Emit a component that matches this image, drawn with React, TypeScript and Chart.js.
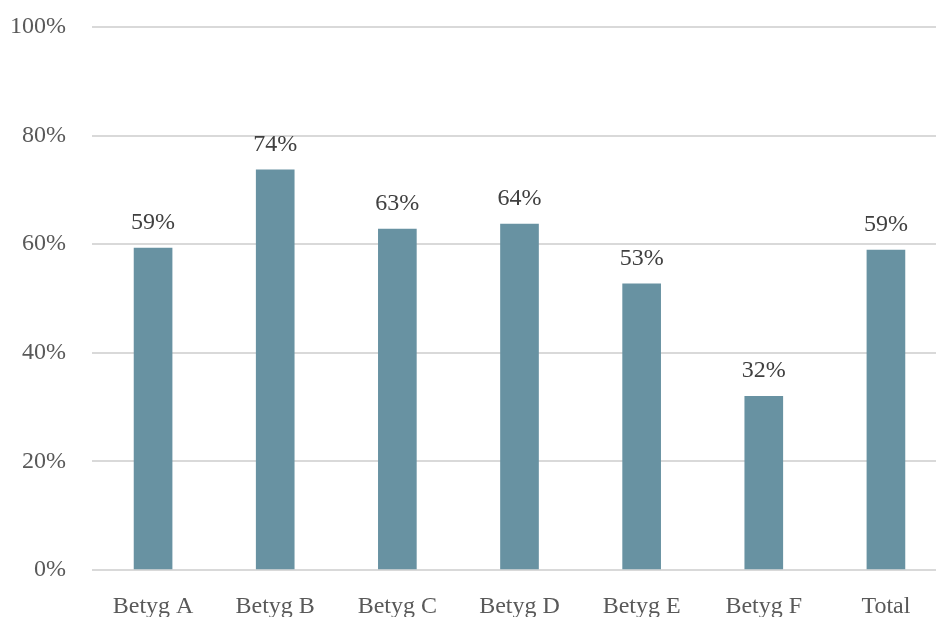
import React, { useEffect, useRef } from "react";
import { Chart, registerables } from "chart.js";

Chart.register(...registerables);

const categories = ["Betyg A", "Betyg B", "Betyg C", "Betyg D", "Betyg E", "Betyg F", "Total"];
const values = [59.3, 73.7, 62.8, 63.7, 52.7, 32.0, 58.9];
const valueLabels = ["59%", "74%", "63%", "64%", "53%", "32%", "59%"];

const FONT = "'Liberation Serif', 'Times New Roman', serif";

const dataLabelPlugin = {
  id: "dataLabels",
  afterDatasetsDraw(chart: any) {
    const ctx = chart.ctx;
    const meta = chart.getDatasetMeta(0);
    ctx.save();
    ctx.font = `24px ${FONT}`;
    ctx.fillStyle = "#404040";
    ctx.textAlign = "center";
    ctx.textBaseline = "alphabetic";
    meta.data.forEach((bar: any, i: number) => {
      ctx.fillText(valueLabels[i], bar.x, bar.y - 19);
    });
    ctx.restore();
  },
};

export default function App() {
  const ref = useRef<HTMLCanvasElement>(null);
  useEffect(() => {
    if (!ref.current) return;
    const chart = new Chart(ref.current, {
      type: "bar",
      data: {
        labels: categories,
        datasets: [
          {
            data: values,
            backgroundColor: "#6892A2",
            borderWidth: 0,
            barThickness: 38,
          },
        ],
      },
      options: {
        responsive: false,
        animation: false,
        layout: { padding: { top: 27, right: 3, left: 0, bottom: 0 } },
        plugins: {
          legend: { display: false },
          tooltip: { enabled: false },
        },
        scales: {
          x: {
            grid: { display: false, drawTicks: false },
            border: { display: false },
            ticks: {
              color: "#595959",
              font: { family: FONT, size: 24 },
              padding: 22,
              maxRotation: 0,
              autoSkip: false,
            },
            afterFit: (scale: any) => {
              scale.height = 70;
              scale.paddingLeft = 0;
              scale.paddingRight = 0;
            },
          },
          y: {
            min: 0,
            max: 100,
            grid: { color: "#d9d9d9", lineWidth: 2, drawTicks: false },
            border: { display: false },
            ticks: {
              stepSize: 20,
              color: "#595959",
              font: { family: FONT, size: 24 },
              padding: 26,
              callback: (v: any) => `${v}%`,
            },
            afterFit: (scale: any) => {
              scale.width = 92;
              scale.paddingTop = 0;
              scale.paddingBottom = 0;
            },
          },
        },
      },
      plugins: [dataLabelPlugin],
    });
    return () => chart.destroy();
  }, []);
  return (
    <div
      style={{
        position: "fixed",
        left: 0,
        top: 0,
        width: 936,
        height: 617,
        overflow: "hidden",
        background: "#fff",
      }}
    >
      <canvas ref={ref} width={950} height={640} style={{ display: "block" }} />
    </div>
  );
}
